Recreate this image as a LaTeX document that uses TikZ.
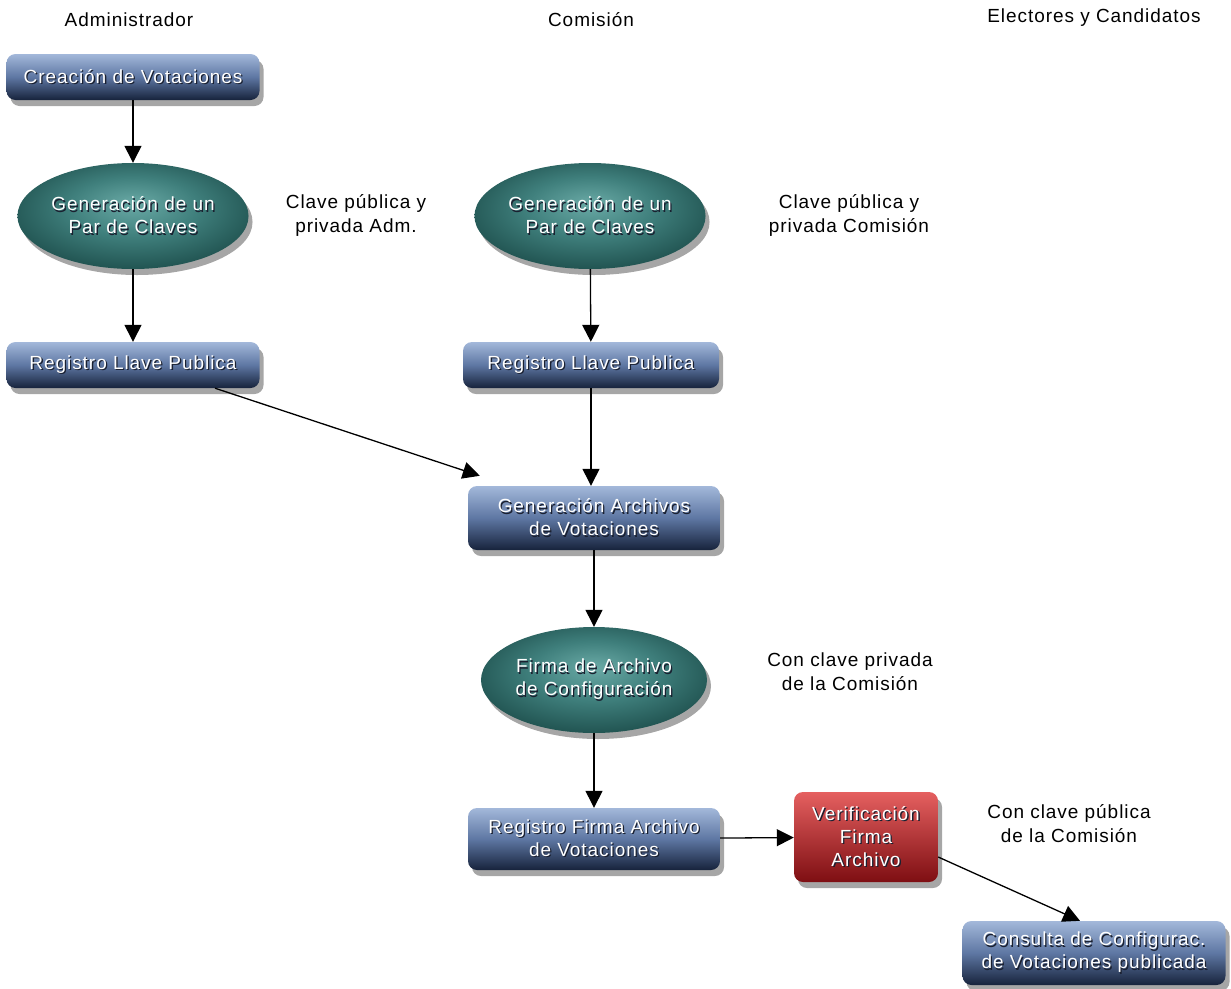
\documentclass[tikz,border=0pt]{standalone}
\usepackage{fontspec}
\setmainfont[LetterSpace=5]{Liberation Sans}
\usetikzlibrary{shapes.geometric,arrows.meta,shadows,calc}
\definecolor{boxtop}{HTML}{A3B8DA}
\definecolor{boxmid}{HTML}{5E77A3}
\definecolor{boxbot}{HTML}{17233C}
\definecolor{ellin}{HTML}{6AAAA6}
\definecolor{ellmid}{HTML}{3F7F7C}
\definecolor{ellout}{HTML}{0B3432}
\definecolor{redtop}{HTML}{E56060}
\definecolor{redbot}{HTML}{7E0E12}
\definecolor{txtshadow}{HTML}{1A2030}
\newcommand\shtx[1]{\leavevmode\rlap{\kern1.3pt\raisebox{-1.3pt}{\textcolor{txtshadow}{#1}}}#1}
\pgfdeclareradialshading{tealrad}{\pgfpoint{0bp}{6bp}}{color(0bp)=(ellin); color(14bp)=(ellmid); color(38bp)=(ellout); color(50bp)=(ellout)}
\tikzset{
  base/.style={text=white, align=center, font=\fontsize{19}{23}\selectfont,
    drop shadow={shadow xshift=4pt, shadow yshift=-6pt, opacity=0.35, fill=black}},
  bluebox/.style={base, rounded corners=9pt, top color=boxtop, bottom color=boxbot,
    middle color=boxmid, inner sep=0pt},
  redbox/.style={base, rounded corners=9pt, top color=redtop, bottom color=redbot,
    inner sep=0pt, minimum width=144pt, minimum height=90pt},
  tealell/.style={base, ellipse, shading=tealrad,
    minimum width=226pt, minimum height=106pt, inner sep=0pt},
  note/.style={align=center, font=\fontsize{19}{24}\selectfont, text=black},
  head/.style={font=\fontsize{19}{23}\selectfont, text=black},
  conn/.style={line width=1.3pt, -{Triangle[length=17pt,width=17pt]}}
}
\begin{document}
\begin{tikzpicture}[x=1pt,y=-1pt]
\useasboundingbox (0,0) rectangle (1231,988);
% headers
\node[head] (h1) at (129,20) {Administrador};
\node[head] (h2) at (591,20) {Comisión};
\node[head] (h3) at (1094,18) {Electores y Candidatos};
% nodes
\node[bluebox, minimum width=253pt, minimum height=46pt] (crea) at (133,77) {\shtx{Creación de Votaciones}};
\node[tealell] (gen1) at (133,216) {\shtx{Generación de un}\\\shtx{Par de Claves}};
\node[note] (n1) at (356,215) {Clave pública y\\privada Adm.};
\node[bluebox, minimum width=253pt, minimum height=46pt] (reg1) at (133,365) {\shtx{Registro Llave Publica}};
\node[tealell] (gen2) at (590,216) {\shtx{Generación de un}\\\shtx{Par de Claves}};
\node[note] (n2) at (849,215) {Clave pública y\\privada Comisión};
\node[bluebox, minimum width=256pt, minimum height=46pt] (reg2) at (591,365) {\shtx{Registro Llave Publica}};
\node[bluebox, minimum width=252pt, minimum height=64pt] (arch) at (594,518) {\shtx{Generación Archivos}\\\shtx{de Votaciones}};
\node[tealell] (firma) at (594,680) {\shtx{Firma de Archivo}\\\shtx{de Configuración}};
\node[note] (n3) at (850,672) {Con clave privada\\de la Comisión};
\node[bluebox, minimum width=252pt, minimum height=62pt] (regf) at (594,839) {\shtx{Registro Firma Archivo}\\\shtx{de Votaciones}};
\node[redbox] (verif) at (866,837) {\shtx{Verificación}\\\shtx{Firma}\\\shtx{Archivo}};
\node[note] (n4) at (1069,824) {Con clave pública\\de la Comisión};
\node[bluebox, minimum width=263pt, minimum height=64pt] (cons) at (1094,953) {\shtx{Consulta de Configurac.}\\\shtx{de Votaciones publicada}};
% connectors
\draw[conn] (crea) -- (gen1);
\draw[conn] (gen1) -- (reg1);
\draw[conn] (gen2) -- (reg2);
\draw[conn] ($(reg1.south)+(82,0)$) -- ($(arch.north west)+(12,-10)$);
\draw[conn] (reg2.south) -- ($(arch.north)+(-3,0)$);
\draw[conn] (arch) -- (firma);
\draw[conn] (firma) -- (regf);
\draw[conn] (regf) -- (verif);
\draw[conn] ($(verif.east)+(0,20)$) -- ($(cons.north)+(-14,0)$);
\end{tikzpicture}
\end{document}
